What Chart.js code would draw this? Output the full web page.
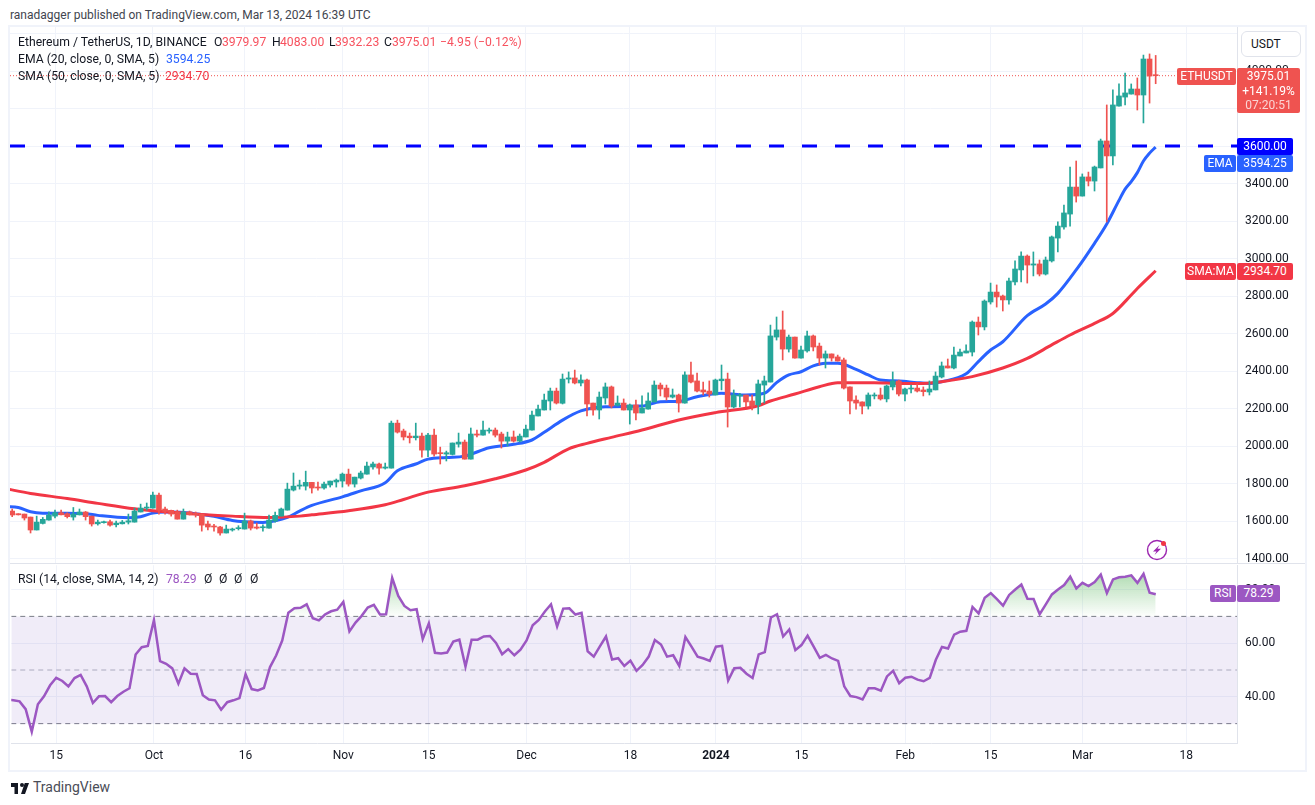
<!DOCTYPE html>
<html>
<head>
<meta charset="utf-8">
<title>ETHUSDT</title>
<script src="https://cdn.jsdelivr.net/npm/chart.js@4/dist/chart.umd.js"></script>
<style>
body { margin: 0; background: #fff; font-family: Roboto, sans-serif; font-size: 12px; color: #131722; }
#wrap { position: relative; width: 1315px; height: 805px; overflow: hidden; }
#frame { position: absolute; left: 8px; top: 25px; width: 1295px; height: 743px; border: 2px solid #f0f3fa; }
#sep { position: absolute; left: 10px; top: 563px; width: 1295px; height: 1px; background: #e0e3eb; }
canvas { position: absolute; left: 10px; }
#priceChart { top: 27px; }
#rsiChart { top: 564px; }
.t { position: absolute; white-space: nowrap; line-height: 14px; }
.l { font-size: 12.2px; }
.b { position: absolute; color: #fff; text-align: center; line-height: 17px; border-radius: 2px; }
.btn { position: absolute; left: 1241px; top: 31px; width: 58px; height: 24px; border: 1px solid #e0e3eb; border-radius: 6px; line-height: 24px; text-indent: 9px; background: #fff; }
</style>
</head>
<body>
<div id="wrap">
  <div id="frame"></div>
  <canvas id="priceChart" width="1295" height="536"></canvas>
  <canvas id="rsiChart" width="1295" height="205"></canvas>
  <div id="sep"></div>

  <span class="t" style="left:10px;top:8px;color:#42454f">ranadagger published on TradingView.com, Mar 13, 2024 16:39 UTC</span>

  <span class="t l" style="left:18px;top:35px">Ethereum / TetherUS, 1D, BINANCE</span>
  <span class="t l" style="left:214px;top:35px">O</span><span class="t l" style="left:222px;top:35px;color:#f7525f">3979.97</span>
  <span class="t l" style="left:272px;top:35px">H</span><span class="t l" style="left:280px;top:35px;color:#f7525f">4083.00</span>
  <span class="t l" style="left:329px;top:35px">L</span><span class="t l" style="left:335px;top:35px;color:#f7525f">3932.23</span>
  <span class="t l" style="left:384px;top:35px">C</span><span class="t l" style="left:392px;top:35px;color:#f7525f">3975.01</span>
  <span class="t l" style="left:440px;top:35px;color:#f7525f">−4.95 (−0.12%)</span>
  <span class="t l" style="left:18px;top:52px">EMA (20, close, 0, SMA, 5)</span><span class="t l" style="left:166px;top:52px;color:#2962ff">3594.25</span>
  <span class="t l" style="left:18px;top:69px">SMA (50, close, 0, SMA, 5)</span><span class="t l" style="left:165px;top:69px;color:#f23645">2934.70</span>

  <span class="t l" style="left:18px;top:572px">RSI (14, close, SMA, 14, 2)</span><span class="t l" style="left:166px;top:572px;color:#9c57c2">78.29</span>
  <span class="t l" style="left:204px;top:572px">Ø</span><span class="t l" style="left:219px;top:572px">Ø</span><span class="t l" style="left:234px;top:572px">Ø</span><span class="t l" style="left:250px;top:572px">Ø</span>

  <div class="btn">USDT</div>

  <div class="b" style="left:1177px;top:68px;width:59px;height:17px;background:#ef5350">ETHUSDT</div>
  <div class="b" style="left:1237px;top:68px;width:63px;height:45px;background:#ef5350">
    <div style="line-height:15px;margin-top:1px">3975.01</div>
    <div style="line-height:14px">+141.19%</div>
    <div style="line-height:14px;color:#fbd5d4">07:20:51</div>
  </div>
  <div class="b" style="left:1237px;top:138px;width:56px;height:17px;background:#0000ff">3600.00</div>
  <div class="b" style="left:1204px;top:155px;width:32px;height:17px;background:#2962ff">EMA</div>
  <div class="b" style="left:1237px;top:155px;width:56px;height:17px;background:#2962ff">3594.25</div>
  <div class="b" style="left:1185px;top:263px;width:51px;height:17px;background:#f23645">SMA:MA</div>
  <div class="b" style="left:1237px;top:263px;width:56px;height:17px;background:#f23645">2934.70</div>
  <div class="b" style="left:1210px;top:585px;width:26px;height:17px;background:#9c57c2">RSI</div>
  <div class="b" style="left:1237px;top:585px;width:43px;height:17px;background:#9c57c2">78.29</div>

  <svg style="position:absolute;left:1145px;top:538px" width="24" height="24" viewBox="0 0 24 24">
    <circle cx="12" cy="12" r="9.5" fill="#fff" stroke="#9c27b0" stroke-width="1.4"/>
    <path d="M14.5 7 L8 13.5 H11.5 L9.5 17 L16 10.8 H12.5 Z" fill="#9c27b0"/>
    <circle cx="18.5" cy="5.5" r="2.5" fill="#f23645"/>
  </svg>

  <svg style="position:absolute;left:10px;top:782px" width="20" height="12" viewBox="0 4 36 24">
    <path d="M14 6H0v8h7v14h7V6zM28 28H20l7.5-22H36l-8 22z" fill="#131722"/>
    <circle cx="22" cy="10" r="4" fill="#131722"/>
  </svg>
  <span class="t" style="left:33px;top:780px;font-size:14px;color:#4a4d57">TradingView</span>
</div>

<script>
// days are counted from Sep 8 2023 (day 0), the first candle
const opens = [
    1653,1639,1637,1621,1552,1587,1605,1626,1644,1639,
    1621,1633,1648,1626,1585,1591,1596,1580,1585,1594,
    1594,1648,1669,1669,1738,1664,1657,1649,1610,1649,
    1640,1637,1584,1571,1568,1536,1552,1559,1557,1600,
    1568,1564,1562,1600,1626,1658,1765,1786,1786,1806,
    1781,1776,1792,1808,1813,1850,1797,1829,1850,1888,
    1904,1882,1882,2122,2080,2053,2044,2053,1978,2058,
    1964,1957,1955,2010,2021,1930,2064,2058,2080,2085,
    2064,2026,2048,2026,2048,2085,2160,2192,2240,2293,
    2228,2357,2363,2336,2352,2229,2192,2256,2315,2217,
    2229,2192,2219,2176,2197,2235,2325,2309,2261,2272,
    2229,2379,2347,2299,2293,2272,2348,2357,2208,2267,
    2272,2240,2219,2325,2341,2581,2619,2517,2581,2469,
    2507,2587,2533,2469,2491,2475,2459,2315,2245,2235,
    2213,2267,2272,2251,2315,2347,2277,2304,2309,2299,
    2288,2299,2368,2427,2416,2480,2496,2501,2661,2635,
    2768,2821,2800,2779,2875,2939,3013,2965,2971,2917,
    2987,3109,3168,3237,3381,3333,3435,3413,3483,3627,
    3547,3813,3861,3877,3904,3872,4064,3979.97
];
const highs = [
    1664,1639,1637,1621,1626,1619,1649,1658,1658,1644,
    1672,1664,1651,1626,1605,1600,1605,1600,1603,1637,
    1669,1690,1696,1754,1749,1674,1658,1658,1664,1653,
    1648,1637,1600,1582,1571,1578,1562,1575,1642,1605,
    1589,1580,1632,1648,1669,1802,1856,1818,1866,1806,
    1808,1808,1813,1824,1856,1877,1834,1866,1914,1914,
    1909,1909,2133,2138,2090,2069,2122,2069,2067,2090,
    1994,1973,2016,2069,2032,2096,2085,2133,2096,2096,
    2074,2074,2080,2064,2112,2186,2218,2277,2309,2309,
    2384,2395,2405,2379,2357,2229,2288,2336,2320,2267,
    2251,2224,2245,2267,2283,2347,2336,2325,2304,2277,
    2395,2448,2389,2341,2347,2357,2432,2389,2299,2281,
    2272,2272,2352,2373,2645,2688,2720,2592,2581,2533,
    2613,2592,2549,2507,2491,2485,2469,2315,2267,2235,
    2283,2283,2309,2325,2395,2352,2309,2325,2331,2315,
    2347,2395,2448,2464,2528,2517,2539,2667,2688,2779,
    2869,2859,2805,2896,2987,3035,3019,3035,2992,3008,
    3120,3195,3285,3488,3520,3451,3461,3493,3637,3819,
    3899,3931,3989,3931,3963,4085,4091,4083
];
const lows = [
    1623,1632,1605,1536,1552,1584,1605,1616,1632,1616,
    1605,1632,1605,1573,1578,1589,1573,1568,1584,1584,
    1594,1648,1658,1669,1637,1637,1626,1610,1610,1632,
    1621,1546,1552,1546,1525,1536,1546,1552,1557,1552,
    1557,1546,1562,1594,1626,1658,1760,1770,1765,1749,
    1765,1770,1781,1781,1781,1786,1781,1824,1850,1877,
    1850,1877,1882,2069,2032,2016,2032,1941,1943,1946,
    1904,1920,1952,1994,1930,1930,2048,2058,2069,2048,
    1989,2000,2021,2021,2048,2085,2160,2192,2192,2224,
    2224,2336,2331,2320,2160,2165,2144,2224,2203,2213,
    2192,2117,2139,2176,2197,2235,2267,2245,2256,2181,
    2229,2336,2288,2272,2261,2272,2299,2101,2203,2208,
    2208,2192,2171,2229,2341,2565,2459,2501,2469,2469,
    2501,2507,2432,2416,2453,2453,2304,2171,2197,2171,
    2197,2251,2245,2235,2299,2267,2240,2283,2288,2267,
    2272,2299,2363,2416,2411,2480,2496,2480,2592,2619,
    2757,2741,2720,2757,2859,2875,2869,2907,2907,2912,
    2981,3035,3157,3173,3301,3333,3387,3360,3483,3195,
    3499,3813,3819,3877,3792,3723,3829,3932.23
];
const closes = [
    1632,1633,1616,1552,1594,1609,1632,1644,1633,1623,
    1637,1648,1623,1584,1594,1596,1578,1589,1594,1601,
    1653,1669,1674,1738,1657,1651,1637,1610,1648,1633,
    1635,1578,1568,1568,1536,1557,1557,1564,1600,1562,
    1562,1568,1605,1630,1664,1770,1786,1792,1806,1776,
    1776,1797,1813,1818,1850,1797,1834,1856,1893,1904,
    1882,1888,2122,2074,2048,2044,2053,1978,2058,1957,
    1959,1964,2016,2021,1930,2064,2058,2085,2085,2058,
    2026,2048,2026,2053,2090,2165,2197,2245,2293,2229,
    2357,2363,2336,2352,2224,2192,2261,2315,2213,2229,
    2192,2219,2176,2203,2240,2325,2304,2261,2272,2229,
    2379,2341,2293,2288,2277,2352,2357,2208,2272,2272,
    2235,2213,2331,2347,2587,2619,2517,2581,2469,2512,
    2587,2528,2469,2491,2469,2453,2309,2240,2229,2213,
    2272,2272,2251,2320,2347,2277,2304,2309,2293,2290,
    2304,2373,2427,2416,2485,2501,2507,2661,2635,2773,
    2821,2795,2779,2880,2944,3013,2965,2971,2917,2992,
    3115,3173,3243,3381,3333,3435,3413,3488,3627,3547,
    3819,3867,3883,3904,3872,4064,3973,3975.01
];

const emaDays = [-1,1,3,5,9,12,14,19,21,23,25,28,31,33,36,38,41,43,45,47,49,54,57,61,63,66,68,71,74,78,82,85,87,90,93,97,103,106,109,112,116,120,123,125,127,129,131,133,135,138,140,142,145,148,150,152,156,158,160,162,166,169,171,174,177,179,181,182,183,184,185,186,187];
const emaValues = [1677,1672,1649,1642,1642,1639,1630,1617,1623,1642,1648,1646,1635,1625,1603,1596,1592,1601,1619,1653,1683,1729,1761,1804,1868,1904,1930,1939,1946,1991,2009,2032,2073,2138,2187,2210,2213,2236,2238,2263,2281,2272,2281,2338,2379,2396,2427,2441,2441,2409,2379,2352,2347,2338,2334,2343,2385,2450,2512,2556,2695,2757,2814,2939,3081,3184,3310,3370,3410,3458,3520,3562,3594.25];

const smaDays = [-1,3,9,14,20,25,31,36,42,47,49,55,61,64,68,74,79,84,87,91,94,98,103,109,115,122,124,128,132,135,141,145,149,152,157,162,166,170,173,177,180,183,184,187];
const smaValues = [1772,1747,1720,1694,1665,1649,1635,1626,1619,1626,1633,1655,1687,1715,1754,1788,1825,1872,1913,1985,2014,2046,2085,2139,2178,2215,2240,2277,2316,2338,2338,2334,2334,2343,2370,2416,2467,2539,2592,2654,2707,2805,2840,2934.70];

// day -1 is the stub of the line at the left edge of the pane
const rsiDays = [-1];
const rsiLead = [38.9];
const rsiValues = [
    38.7,38.3,35.4,27.0,37.2,40.2,44.3,47.1,45.9,43.9,
    47.0,48.2,43.9,37.7,40.2,40.3,38.0,40.3,41.9,43.2,
    55.8,58.5,59.0,68.6,53.3,52.3,50.6,44.9,50.6,48.6,
    48.5,40.6,39.0,38.7,35.2,38.0,38.7,39.5,48.4,42.9,
    42.4,43.3,51.1,55.4,61.0,71.4,73.0,73.2,74.5,69.3,
    68.5,70.7,71.9,72.5,75.4,64.4,67.7,70.2,73.3,74.3,
    70.7,70.8,84.4,77.6,73.9,72.3,72.7,61.5,67.4,56.4,
    56.2,56.5,60.6,61.3,51.3,61.3,61.3,62.5,62.7,60.1,
    55.9,57.8,55.5,57.6,61.0,66.7,68.7,71.8,74.5,66.2,
    72.9,73.0,70.7,71.3,57.0,55.0,58.8,62.5,53.9,54.4,
    51.5,53.5,49.7,51.9,55.0,61.2,59.5,55.0,55.5,51.5,
    62.3,58.7,55.0,54.3,53.4,58.7,59.0,46.1,50.7,50.8,
    48.6,47.0,55.8,56.7,69.6,70.8,62.5,65.1,57.4,59.3,
    62.8,58.7,54.5,55.6,54.3,53.4,43.9,40.3,39.9,39.0,
    43.2,43.2,42.3,47.6,49.7,45.1,47.1,47.5,46.4,45.8,
    47.1,53.8,58.6,58.0,63.2,64.3,64.6,73.5,71.1,76.9,
    78.7,76.4,74.0,78.0,80.0,81.9,76.6,76.5,70.8,74.5,
    78.2,80.0,81.7,84.8,80.4,82.5,81.3,82.8,85.6,78.7,
    83.8,84.6,84.8,85.3,82.5,85.9,78.8,78.29
];

const xTickDays = [7,23,38,54,68,84,101,115,129,146,160,175,192];
const xTickLabels = ['15','Oct','16','Nov','15','Dec','18','2024','15','Feb','15','Mar','18'];

const lastPrice = 3975.01;
const resistance = 3600;
const rsiUpper = 70;
const rsiMiddle = 50;
const rsiLower = 30;

const xMin = -0.36;
const xMax = 200.3;
const upColor = '#26a69a';
const downColor = '#ef5350';
const gridColor = '#f0f3fa';
const axisColor = '#e0e3eb';
const fontFamily = 'Roboto, sans-serif';

const candleColors = opens.map((o, i) => closes[i] >= o ? upColor : downColor);

function pairs(days, values) {
    return days.map((d, i) => ({ x: d, y: values[i] }));
}

function flatLine(value) {
    return [{ x: xMin, y: value }, { x: xMax, y: value }];
}

function xScale(showTicks) {
    return {
        type: 'linear',
        min: xMin,
        max: xMax,
        offset: false,
        afterBuildTicks: scale => { scale.ticks = xTickDays.map(d => ({ value: d })); },
        afterFit: scale => { scale.height = showTicks ? 26 : 0; scale.paddingLeft = 0; scale.paddingRight = 0; },
        grid: { color: gridColor, offset: false, drawTicks: false },
        border: { display: showTicks, color: axisColor },
        ticks: {
            display: showTicks,
            autoSkip: false,
            maxRotation: 0,
            padding: 6,
            color: '#131722',
            font: ctx => ({ family: fontFamily, size: 12, weight: xTickLabels[ctx.index] === '2024' ? 'bold' : 'normal' }),
            callback: (value, index) => xTickLabels[index]
        }
    };
}

function yScale(min, max, step, maxLabel) {
    return {
        position: 'right',
        min: min,
        max: max,
        afterFit: scale => { scale.width = 68; scale.paddingTop = 0; scale.paddingBottom = 0; },
        grid: { color: gridColor, drawTicks: false },
        border: { display: true, color: axisColor },
        ticks: {
            stepSize: step,
            includeBounds: false,
            padding: 8,
            color: '#131722',
            font: { family: fontFamily, size: 12 },
            callback: value => value > maxLabel ? '' : value.toFixed(2)
        }
    };
}

new Chart(document.getElementById('priceChart'), {
    type: 'bar',
    data: {
        datasets: [
            {
                label: 'Wick',
                data: opens.map((o, i) => ({ x: i, y: [lows[i], highs[i]] })),
                backgroundColor: candleColors,
                barThickness: 1,
                grouped: false,
                order: 2
            },
            {
                label: 'Body',
                data: opens.map((o, i) => ({ x: i, y: [o, closes[i]] })),
                backgroundColor: candleColors,
                barThickness: 5,
                grouped: false,
                minBarLength: 1,
                order: 1
            },
            {
                type: 'line',
                label: 'SMA',
                data: pairs(smaDays, smaValues),
                borderColor: '#f23645',
                borderWidth: 3,
                pointRadius: 0,
                cubicInterpolationMode: 'monotone',
                order: 3
            },
            {
                type: 'line',
                label: 'EMA',
                data: pairs(emaDays, emaValues),
                borderColor: '#2962ff',
                borderWidth: 3,
                pointRadius: 0,
                cubicInterpolationMode: 'monotone',
                order: 3
            },
            {
                type: 'line',
                label: 'Resistance',
                data: flatLine(resistance),
                borderColor: '#0000ff',
                borderWidth: 3,
                borderDash: [15, 18],
                pointRadius: 0,
                order: 4
            },
            {
                type: 'line',
                label: 'Last',
                data: flatLine(lastPrice),
                borderColor: downColor,
                borderWidth: 1,
                borderDash: [1, 2],
                pointRadius: 0,
                order: 4
            }
        ]
    },
    options: {
        responsive: false,
        animation: false,
        layout: { padding: 0 },
        plugins: { legend: { display: false }, tooltip: { enabled: false } },
        scales: {
            x: xScale(false),
            y: yScale(1376, 4234.7, 200, 4000)
        }
    }
});

const rsiChart = new Chart(document.getElementById('rsiChart'), {
    type: 'line',
    data: {
        datasets: [
            {
                label: 'Band',
                data: flatLine(rsiUpper),
                borderColor: '#787b86',
                borderWidth: 1,
                borderDash: [5, 4],
                backgroundColor: 'rgba(126, 87, 194, 0.115)',
                fill: { value: rsiLower },
                pointRadius: 0,
                order: 4
            },
            {
                label: 'Lower',
                data: flatLine(rsiLower),
                borderColor: '#787b86',
                borderWidth: 1,
                borderDash: [5, 4],
                pointRadius: 0,
                order: 4
            },
            {
                label: 'Middle',
                data: flatLine(rsiMiddle),
                borderColor: '#b2b5be',
                borderWidth: 1,
                borderDash: [5, 4],
                pointRadius: 0,
                order: 4
            },
            {
                label: 'RSI',
                data: pairs(rsiDays, rsiLead).concat(rsiValues.map((v, i) => ({ x: i, y: v }))),
                borderColor: '#9c57c2',
                borderWidth: 2.5,
                pointRadius: 0,
                tension: 0,
                fill: { value: rsiUpper, above: 'rgba(76, 175, 80, 0.3)', below: 'rgba(0, 0, 0, 0)' },
                order: 1
            }
        ]
    },
    options: {
        responsive: false,
        animation: false,
        layout: { padding: 0 },
        plugins: { legend: { display: false }, tooltip: { enabled: false } },
        scales: {
            x: xScale(true),
            y: yScale(22.78, 89.07, 20, 100)
        }
    }
});

// green fade above the overbought line
const yAxis = rsiChart.scales.y;
const fade = rsiChart.ctx.createLinearGradient(0, yAxis.getPixelForValue(88), 0, yAxis.getPixelForValue(rsiUpper));
fade.addColorStop(0, 'rgba(76, 175, 80, 0.5)');
fade.addColorStop(1, 'rgba(76, 175, 80, 0.02)');
rsiChart.data.datasets[3].fill.above = fade;
rsiChart.update('none');
</script>
</body>
</html>
